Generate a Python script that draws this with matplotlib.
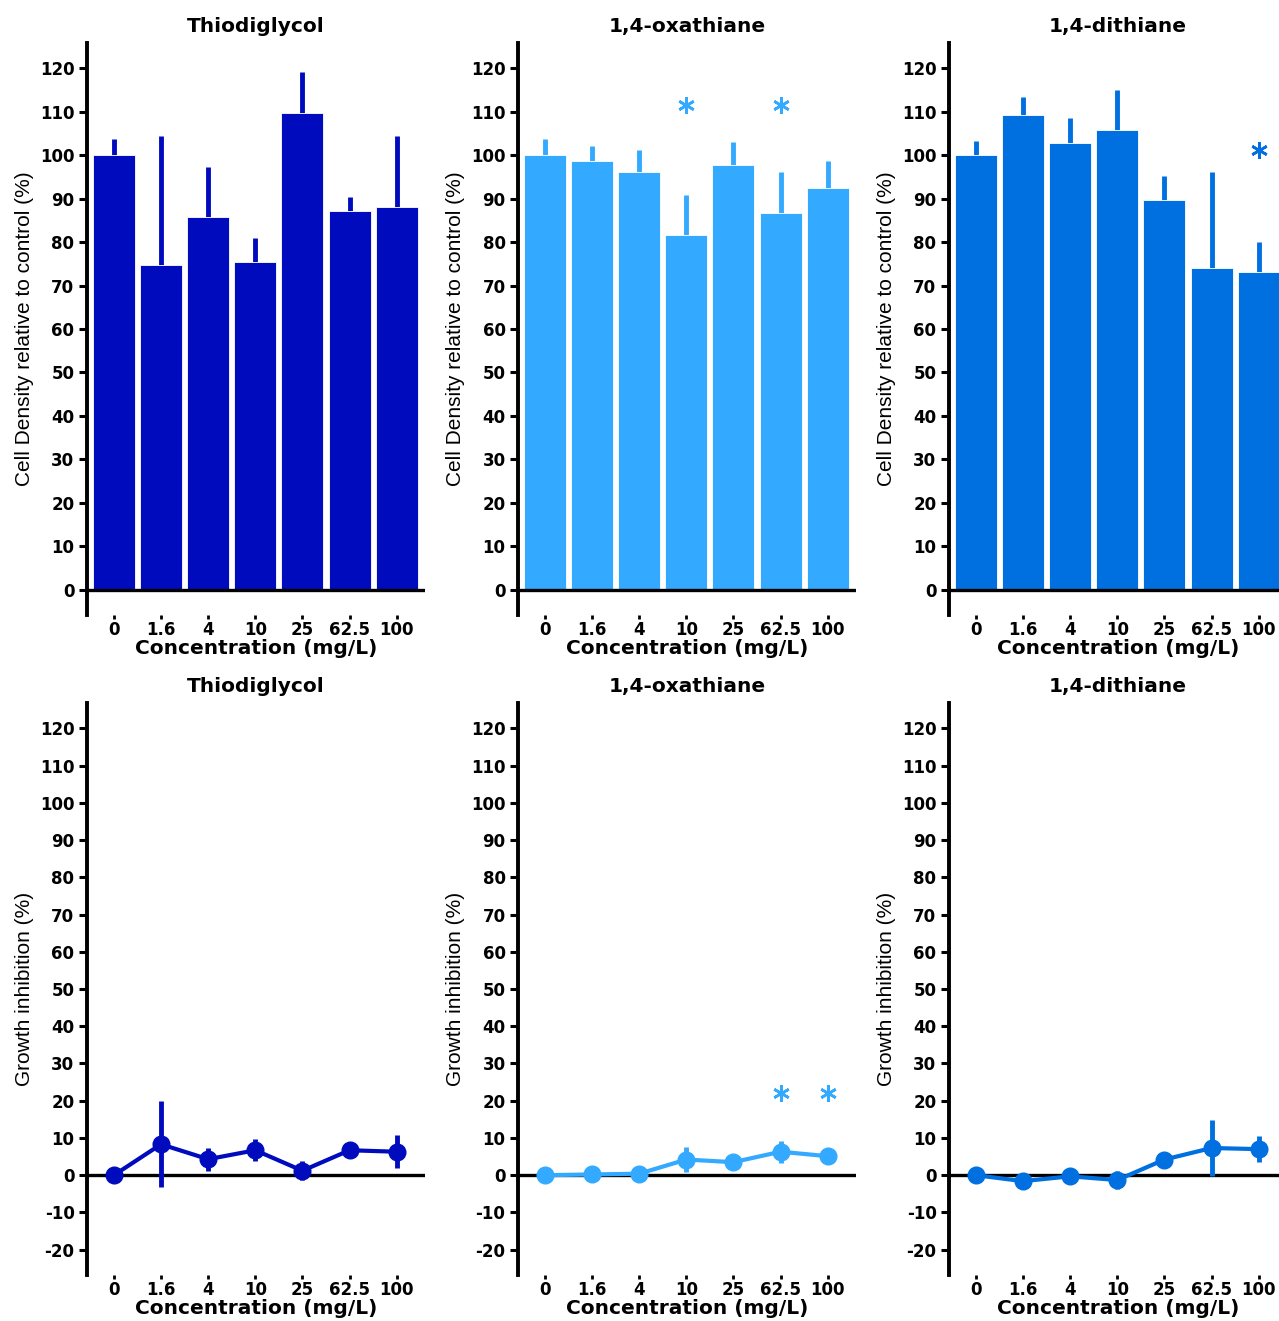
import matplotlib
matplotlib.use("Agg")
import matplotlib.pyplot as plt
import numpy as np

# ---------------- data ----------------
concentrations = ["0", "1.6", "4", "10", "25", "62.5", "100"]
compounds = ["Thiodiglycol", "1,4-oxathiane", "1,4-dithiane"]
colors = ["#000BBE", "#33AAFF", "#006FE0"]

# Cell density relative to control (%) : bar heights and upper error lengths
density_tdg = [100.0, 74.7, 85.7, 75.4, 109.6, 87.2, 88.0]
density_tdg_err = [3.8, 29.8, 11.6, 5.6, 9.6, 3.2, 16.3]
density_oxa = [100.0, 98.7, 96.2, 81.7, 97.8, 86.6, 92.4]
density_oxa_err = [3.8, 3.4, 5.0, 9.2, 5.3, 9.5, 6.2]
density_dit = [100.0, 109.2, 102.9, 105.8, 89.7, 74.1, 73.1]
density_dit_err = [3.2, 4.1, 5.6, 9.1, 5.6, 22.0, 7.0]

# Growth inhibition (%) : means and symmetric errors
inhib_tdg = [0.0, 8.3, 4.3, 6.7, 1.2, 6.7, 6.3]
inhib_tdg_err = [0.5, 11.6, 3.1, 2.9, 2.5, 0.6, 4.5]
inhib_oxa = [0.0, 0.2, 0.4, 4.2, 3.5, 6.3, 5.1]
inhib_oxa_err = [0.5, 0.4, 0.5, 3.4, 0.6, 3.0, 1.2]
inhib_dit = [0.0, -1.6, -0.3, -1.3, 4.2, 7.3, 7.0]
inhib_dit_err = [0.5, 0.8, 1.2, 2.5, 0.8, 7.5, 3.5]

# significance markers: (index, y-position)
stars_density = [[], [(3, 111.5), (5, 111.5)], [(6, 101.2)]]
stars_inhib = [[], [(5, 22.0), (6, 22.0)], []]

densities = [density_tdg, density_oxa, density_dit]
density_errs = [density_tdg_err, density_oxa_err, density_dit_err]
inhibs = [inhib_tdg, inhib_oxa, inhib_dit]
inhib_errs = [inhib_tdg_err, inhib_oxa_err, inhib_dit_err]

# ---------------- figure ----------------
W, H = 1279, 1321
fig = plt.figure(figsize=(W / 100, H / 100), dpi=100)

BOLD = dict(family="DejaVu Sans", weight="bold")
YLAB = dict(family=["Liberation Sans Narrow", "Liberation Sans"], fontsize=15)

lefts_px = [87, 518, 949]
ax_w_px = 338
top_rows = [(43, 615), (703, 1275)]

x = np.arange(len(concentrations))


def style_axes(ax, ylim, yticks):
    ax.set_xlim(-0.57, 6.6)
    ax.set_ylim(*ylim)
    ax.set_yticks(yticks)
    ax.set_yticklabels([str(t) for t in yticks], **BOLD, fontsize=12)
    ax.set_xticks(x)
    ax.set_xticklabels(concentrations, **BOLD, fontsize=12)
    for s in ["top", "right", "bottom"]:
        ax.spines[s].set_visible(False)
    ax.spines["left"].set_linewidth(2.8)
    ax.tick_params(axis="y", direction="out", length=6, width=2.2, pad=3)
    ax.tick_params(axis="x", direction="out", length=3, width=2.0, pad=1)
    ax.axhline(0, color="black", lw=2.4, zorder=5)
    ax.set_xlabel("Concentration (mg/L)", **BOLD, fontsize=14.5, labelpad=0)


def add_stars(ax, stars, c):
    for idx, yy in stars:
        ax.plot([x[idx]], [yy], marker=(6, 2, 0), ms=12, mew=1.9, color=c, ls="none",
                clip_on=False)


for i in range(3):
    c = colors[i]
    # ---- top row: bars ----
    t, b = top_rows[0]
    ax = fig.add_axes([lefts_px[i] / W, (H - b) / H, ax_w_px / W, (b - t) / H])
    ax.bar(x, densities[i], width=0.89, color=c, edgecolor="white", linewidth=0.6, zorder=2)
    ax.errorbar(x, densities[i], yerr=[np.zeros(7), density_errs[i]], fmt="none",
                ecolor=c, elinewidth=3.5, capsize=0, zorder=1)
    style_axes(ax, (-5.8, 125.8), list(range(0, 121, 10)))
    ax.set_ylabel("Cell Density relative to control (%)", **YLAB, labelpad=4)
    ax.set_title(compounds[i], **BOLD, fontsize=14.5, pad=8)
    add_stars(ax, stars_density[i], c)

    # ---- bottom row: lines ----
    t, b = top_rows[1]
    ax = fig.add_axes([lefts_px[i] / W, (H - b) / H, ax_w_px / W, (b - t) / H])
    ax.errorbar(x, inhibs[i], yerr=inhib_errs[i], fmt="-o", color=c, lw=3, ms=12,
                elinewidth=3.5, capsize=0, zorder=6, clip_on=False)
    style_axes(ax, (-26.8, 126.8), list(range(-20, 121, 10)))
    ax.set_ylabel("Growth inhibition (%)", **YLAB, labelpad=4)
    ax.set_title(compounds[i], **BOLD, fontsize=14.5, pad=8)
    add_stars(ax, stars_inhib[i], c)

fig.savefig("out.png", dpi=100)
